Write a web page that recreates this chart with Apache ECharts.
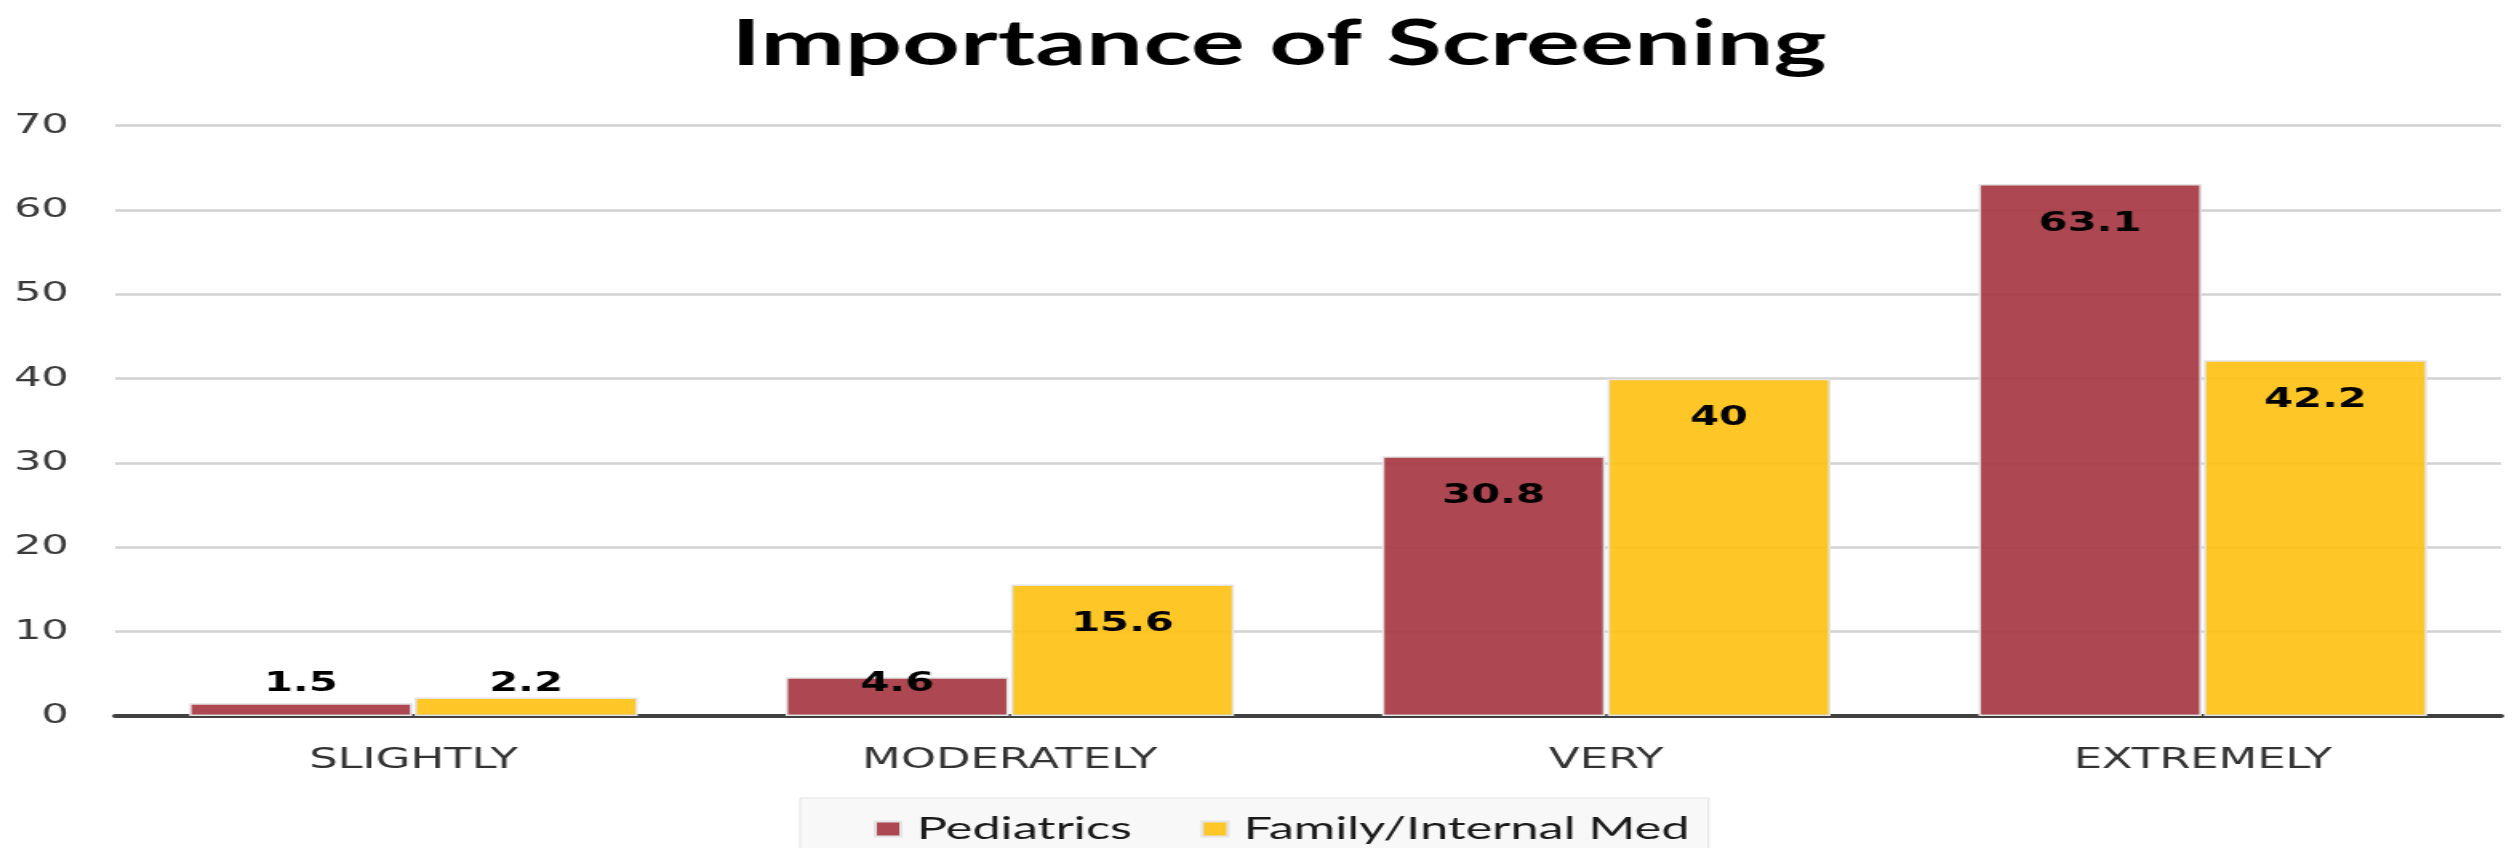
<!DOCTYPE html>
<html>
<head>
<meta charset="utf-8">
<script src="https://cdn.jsdelivr.net/npm/echarts@6/dist/echarts.min.js"></script>
<style>
  html, body { margin: 0; padding: 0; background: #ffffff; overflow: hidden; }
  #wrap { width: 2517px; height: 848px; overflow: hidden; }
  #main { width: 1573px; height: 848px; transform: scaleX(1.6001); transform-origin: 0 0; }
</style>
</head>
<body>
<div id="wrap"><div id="main"></div></div>
<script>
const titleText = 'Importance of Screening';
const categories = ['SLIGHTLY', 'MODERATELY', 'VERY', 'EXTREMELY'];
const seriesNames = ['Pediatrics', 'Family/Internal Med'];
const pediatrics = [1.5, 4.6, 30.8, 63.1];
const familyMed = [2.2, 15.6, 40, 42.2];
const yTicks = [0, 10, 20, 30, 40, 50, 60, 70];

const colors = ['rgba(166,55,66,0.92)', 'rgba(254,193,21,0.92)'];

function barData(values) {
  return values.map(v => ({
    value: v,
    label: v < 5
      ? { position: 'insideBottom', distance: 19 }
      : { position: 'insideTop', distance: 27 }
  }));
}

function makeSeries(name, values, color) {
  return {
    name: name,
    type: 'bar',
    data: barData(values),
    barGap: '1%',
    barCategoryGap: '24.8%',
    itemStyle: { color: color, borderColor: '#e4e4e4', borderWidth: 1.5 },
    label: {
      show: true,
      color: '#000000',
      fontFamily: 'DejaVu Sans',
      fontWeight: 'bold',
      fontSize: 26
    }
  };
}

const chart = echarts.init(document.getElementById('main'), null, { renderer: 'canvas' });
chart.setOption({
  animation: false,
  backgroundColor: '#ffffff',
  title: {
    text: titleText,
    left: 452,
    top: 8,
    textStyle: { fontFamily: 'Lato', fontWeight: 'bold', fontSize: 63, color: '#000000' }
  },
  legend: {
    data: seriesNames,
    left: 500,
    top: 798,
    orient: 'horizontal',
    itemWidth: 16,
    itemHeight: 15,
    itemGap: 43,
    padding: [15, 12, 15, 46],
    backgroundColor: '#f8f8f8',
    borderColor: '#e2e2e2',
    borderWidth: 1,
    icon: 'rect',
    textStyle: { fontFamily: 'Lato', fontSize: 31.5, color: '#1a1a1a', padding: [0, 0, 0, 5] }
  },
  grid: { left: 72, right: 10, top: 125.7, bottom: 132, containLabel: false },
  xAxis: {
    type: 'category',
    data: categories,
    axisLine: { show: true, lineStyle: { color: '#404040', width: 4 } },
    axisTick: { show: false },
    axisLabel: { margin: 31, fontFamily: 'DejaVu Sans', fontSize: 28, color: '#333333' }
  },
  yAxis: {
    type: 'value',
    min: yTicks[0],
    max: yTicks[yTicks.length - 1],
    interval: yTicks[1] - yTicks[0],
    axisLine: { show: false },
    axisTick: { show: false },
    axisLabel: { margin: 29, fontFamily: 'DejaVu Sans', fontSize: 27, color: '#3a3a3a' },
    splitLine: { show: true, lineStyle: { color: '#d2d2d2', width: 2.5 } }
  },
  series: [
    makeSeries(seriesNames[0], pediatrics, colors[0]),
    makeSeries(seriesNames[1], familyMed, colors[1])
  ]
});
</script>
</body>
</html>
